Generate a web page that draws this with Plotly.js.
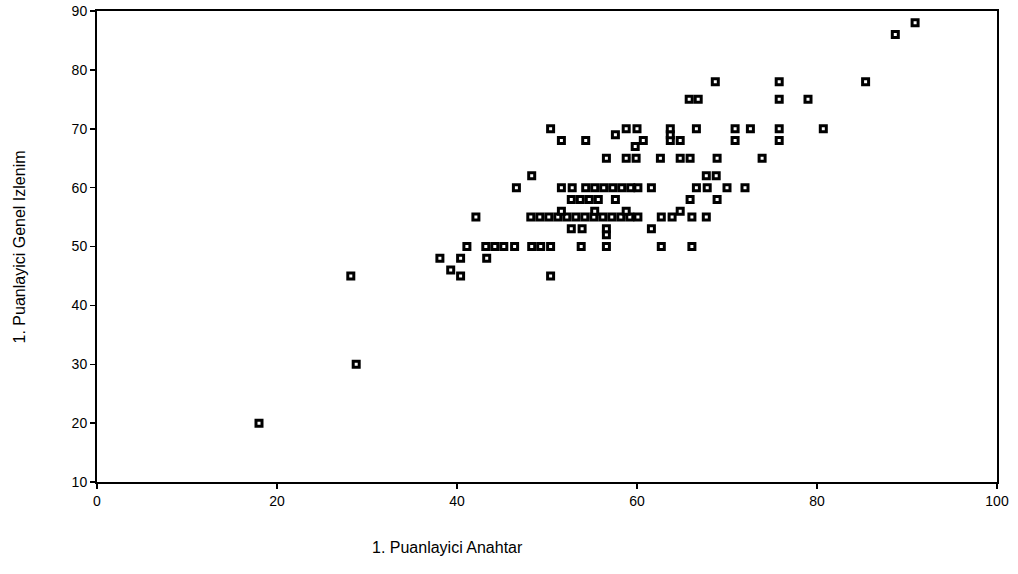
<!DOCTYPE html>
<html>
<head>
<meta charset="utf-8">
<script src="https://cdn.plot.ly/plotly-3.0.1.min.js"></script>
<style>html,body{margin:0;padding:0;background:#fff}#chart{width:1018px;height:574px}</style>
</head>
<body>
<div id="chart"></div>
<script>
// Data (x = 1. Puanlayici Anahtar, y = 1. Puanlayici Genel Izlenim)
const anahtar = [
  18, 28.2, 28.8,
  38.1, 40.4, 43.3, 39.3, 40.4, 50.4,
  41.1, 43.2, 44.2, 45.2, 46.4, 48.3, 49.3, 50.4, 53.8, 56.6, 62.7, 66.1,
  56.6, 52.7, 53.9, 56.6, 61.6,
  42.1, 48.2, 49.2, 50.2, 51.2, 52.2, 53.2, 54.2, 55.2, 56.2, 57.2, 58.2, 59.2, 60.1, 62.7, 63.9, 66.1, 67.7,
  51.6, 55.3, 58.8, 64.8,
  52.7, 53.7, 54.7, 55.7, 57.6, 65.9, 68.9,
  46.6, 51.6, 52.8, 54.3, 55.3, 56.3, 57.3, 58.3, 59.3, 60.1, 61.6, 66.6, 67.8, 70.0, 72.0,
  48.3, 67.7, 68.8,
  56.6, 58.8, 59.9, 62.6, 64.8, 65.9, 68.9, 73.9,
  59.8,
  51.6, 54.3, 60.7, 63.7, 64.8, 70.9, 75.8,
  57.6, 63.7,
  50.4, 58.8, 60.0, 63.7, 66.6, 70.9, 72.6, 75.8, 80.7,
  65.8, 66.8, 75.8, 79.0,
  68.7, 75.8, 85.4,
  88.7, 90.9
];
const genelIzlenim = [
  20, 45, 30,
  48, 48, 48, 46, 45, 45,
  50, 50, 50, 50, 50, 50, 50, 50, 50, 50, 50, 50,
  52, 53, 53, 53, 53,
  55, 55, 55, 55, 55, 55, 55, 55, 55, 55, 55, 55, 55, 55, 55, 55, 55, 55,
  56, 56, 56, 56,
  58, 58, 58, 58, 58, 58, 58,
  60, 60, 60, 60, 60, 60, 60, 60, 60, 60, 60, 60, 60, 60, 60,
  62, 62, 62,
  65, 65, 65, 65, 65, 65, 65, 65,
  67,
  68, 68, 68, 68, 68, 68, 68,
  69, 69,
  70, 70, 70, 70, 70, 70, 70, 70, 70,
  75, 75, 75, 75,
  78, 78, 78,
  86, 88
];
const xTicks = [0, 20, 40, 60, 80, 100];
const yTicks = [10, 20, 30, 40, 50, 60, 70, 80, 90];
const xTitle = '1. Puanlayici Anahtar';
const yTitle = '1. Puanlayici Genel Izlenim';

const font = 'Liberation Sans, Arial, sans-serif';
const trace = {
  x: anahtar, y: genelIzlenim, type: 'scatter', mode: 'markers',
  marker: {symbol: 'square', size: 6, color: '#ffffff', line: {color: '#000000', width: 3}},
  hoverinfo: 'x+y'
};
const axisCommon = {
  showgrid: false, zeroline: false, showline: true, mirror: true,
  linecolor: '#000', linewidth: 2, ticks: 'outside', ticklen: 5, tickwidth: 1.5, tickcolor: '#000',
  tickfont: {family: font, size: 14, color: '#000000'}
};
const layout = {
  width: 1018, height: 574,
  margin: {l: 97, r: 21, t: 11, b: 92},
  paper_bgcolor: '#fff', plot_bgcolor: '#fff',
  font: {family: font, color: '#000000'},
  showlegend: false,
  xaxis: Object.assign({}, axisCommon, {range: [0, 100], tickvals: xTicks, ticktext: xTicks.map(String)}),
  yaxis: Object.assign({}, axisCommon, {range: [10, 90], tickvals: yTicks, ticktext: yTicks.map(String)}),
  annotations: [
    {text: xTitle, xref: 'paper', yref: 'paper', x: 0.389, y: -0.14, xanchor: 'center', yanchor: 'middle',
     showarrow: false, font: {family: font, size: 16, color: '#000000'}},
    {text: yTitle, xref: 'paper', yref: 'paper', x: -0.0856, y: 0.5, xanchor: 'center', yanchor: 'middle',
     textangle: -90, showarrow: false, font: {family: font, size: 16, color: '#000000'}}
  ]
};
Plotly.newPlot('chart', [trace], layout, {displayModeBar: false, staticPlot: true});
</script>
</body>
</html>
